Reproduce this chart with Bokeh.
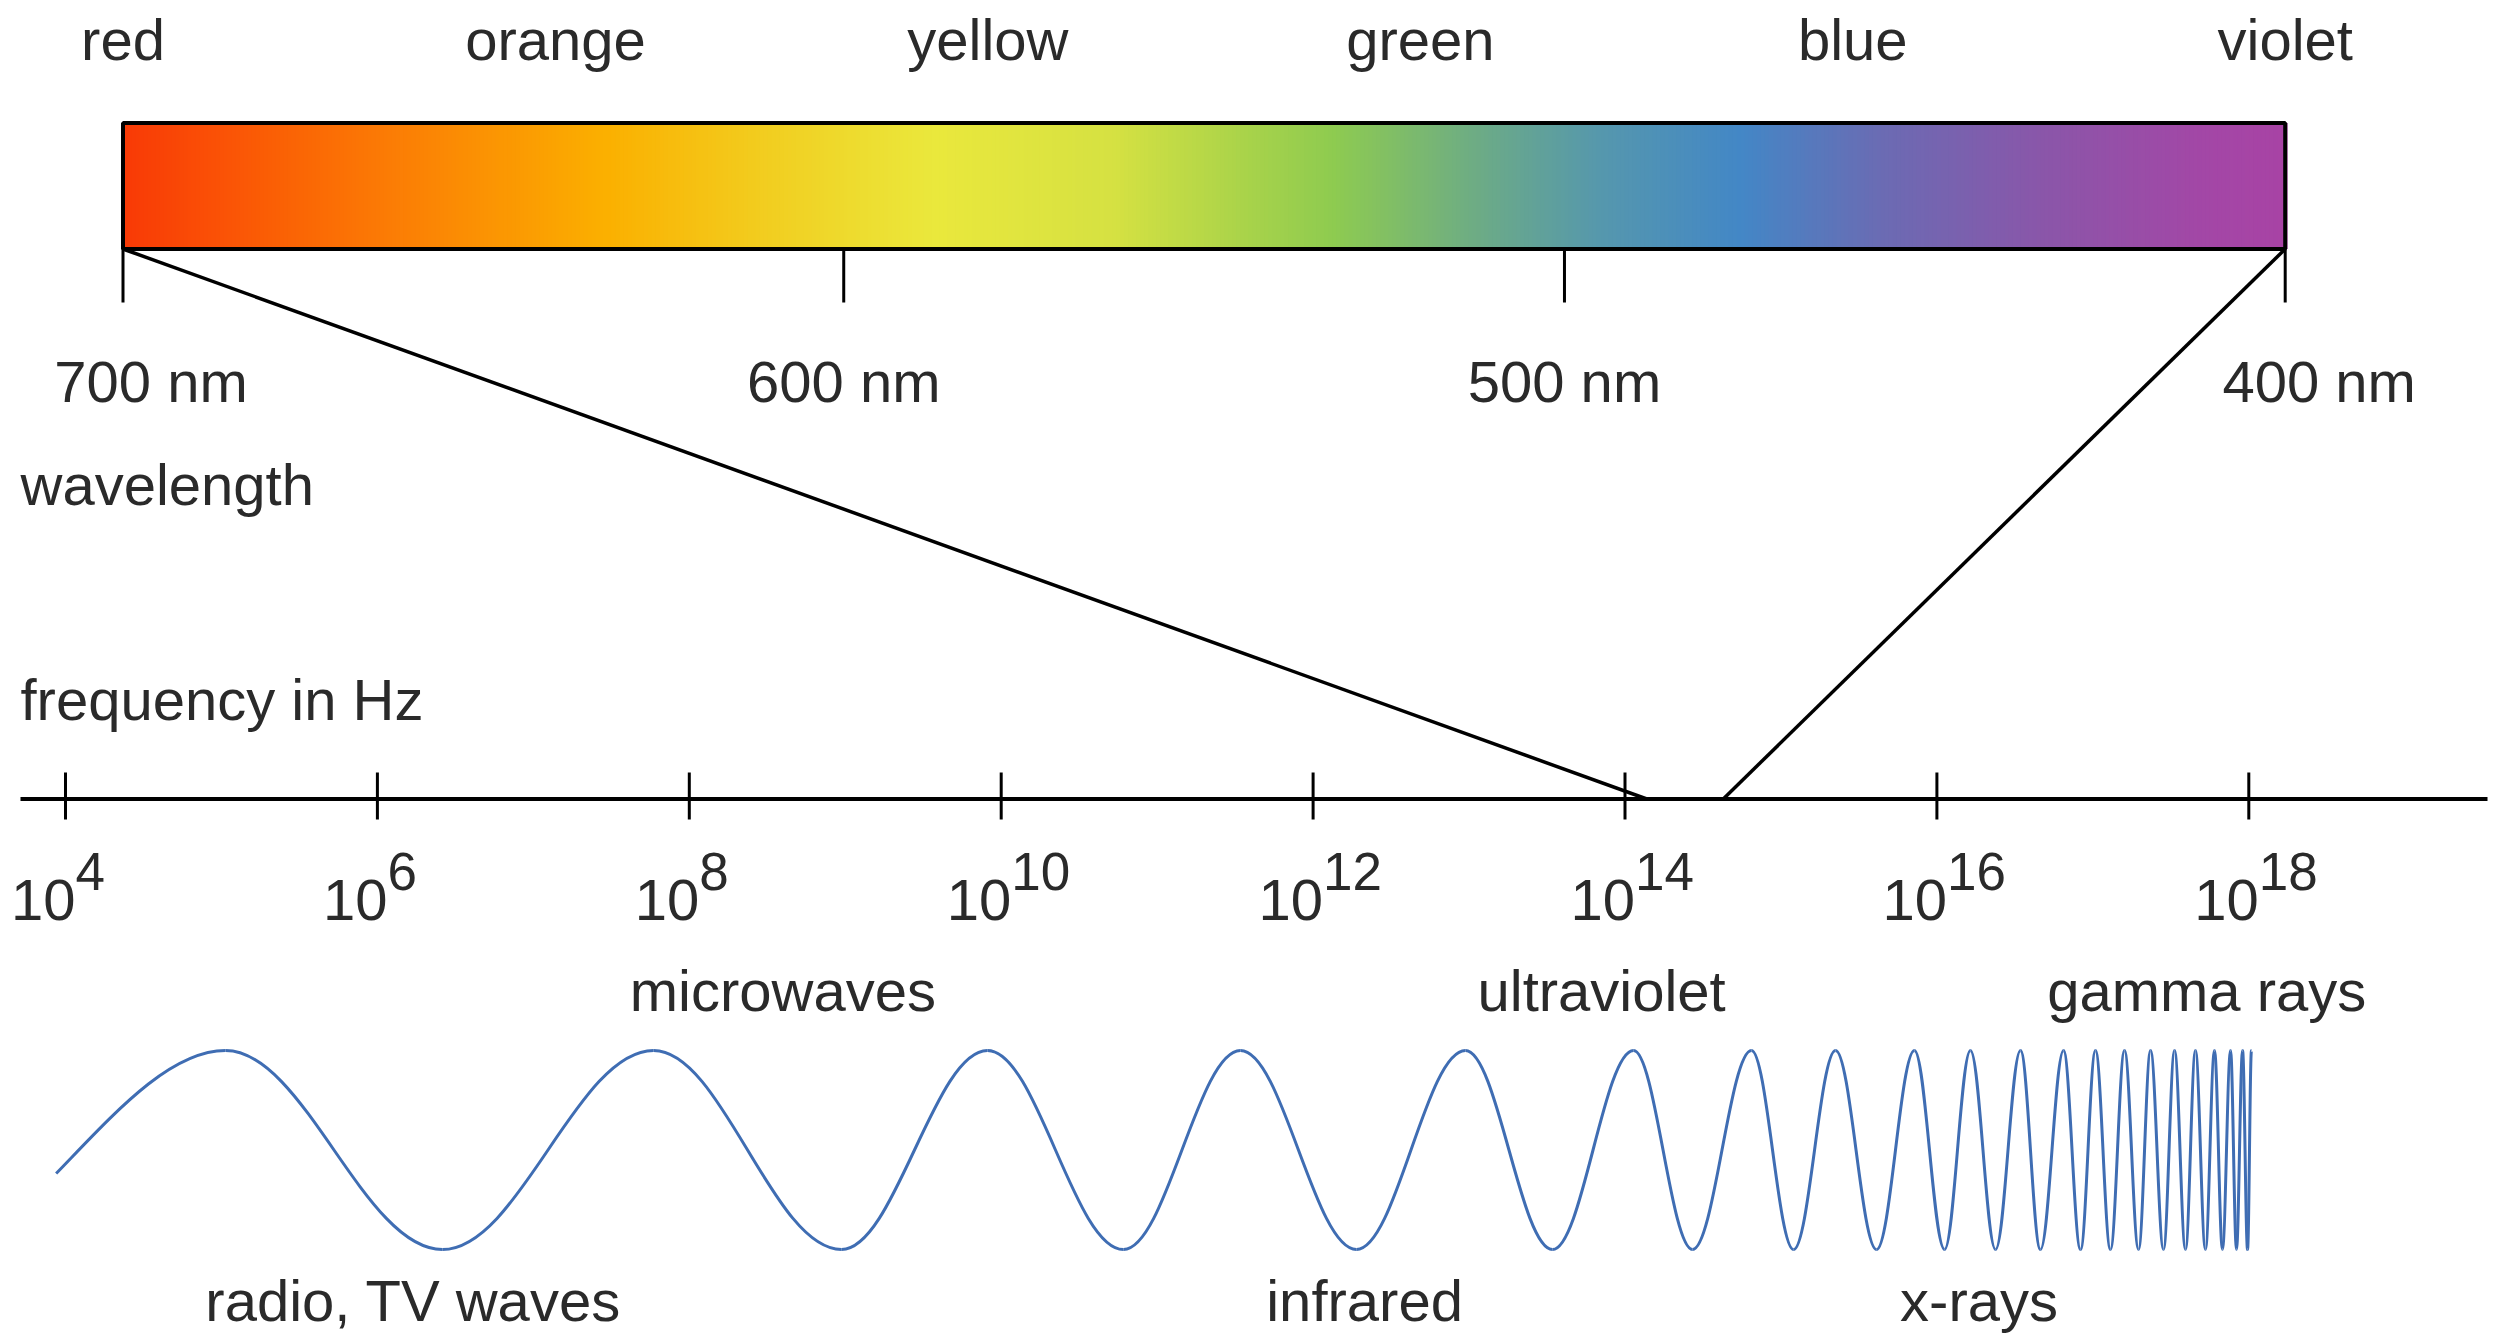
import numpy as np
from bokeh.plotting import figure
from bokeh.models import Range1d, ColumnDataSource
from bokeh.core.properties import value
from bokeh.embed import file_html
from bokeh.resources import INLINE

# ---------------- data ----------------
color_names = ["red", "orange", "yellow", "green", "blue", "violet"]
wavelength_ticks_nm = [700, 600, 500, 400]
wavelength_labels = ["700 nm", "600 nm", "500 nm", "400 nm"]
freq_exponents = [4, 6, 8, 10, 12, 14, 16, 18]
visible_band_logf = [14.14, 14.63]          # where 700 nm / 400 nm meet the frequency axis
bands_above = ["microwaves", "ultraviolet", "gamma rays"]
bands_above_logf = [8.60, 13.85, 17.73]
bands_below = ["radio, TV waves", "infrared", "x-rays"]
bands_below_logf = [6.23, 12.33, 16.27]
wave_start_logf = 3.94
# alternating crests / troughs of the drawn wave (first one is a crest)
wave_extrema_logf = [5.026, 6.417, 7.771, 8.976, 9.912, 10.784, 11.534, 12.278,
                     12.977, 13.535, 14.055, 14.433, 14.811, 15.081, 15.350, 15.613,
                     15.856, 16.049, 16.215, 16.376, 16.536, 16.664, 16.812, 16.921,
                     17.017, 17.113, 17.203, 17.293, 17.370, 17.453, 17.524, 17.594,
                     17.658, 17.722, 17.780, 17.831, 17.883, 17.921, 17.960, 17.992,
                     18.017]

# ---------------- layout / style ----------------
W, H = 2495, 1339
PX_PER_DECADE = 155.95
X_START = 4 - 65 / PX_PER_DECADE
X_END = X_START + W / PX_PER_DECADE
BAR_LEFT_PX, BAR_RIGHT_PX = 122.5, 2284.7
NM_PER_PX = 300.0 / (BAR_RIGHT_PX - BAR_LEFT_PX)
NM_START = 700 + BAR_LEFT_PX * NM_PER_PX
NM_END = NM_START - W * NM_PER_PX

BAR_TOP, BAR_BOT = 122.5, 248.5
WL_TICK_END = 302
WL_LABEL_Y = 381
WL_LABEL_DX = [28, 0, 0, 34]
COLOR_NAME_Y = 39
WAVELENGTH_TITLE_Y = 484
FREQ_TITLE_Y = 699
AXIS_Y = 798.5
AXIS_START = X_START + 20 / PX_PER_DECADE
FTICK_Y0, FTICK_Y1 = 772, 819
EXP_BASE_Y, EXP_SUP_Y = 899, 871
ABOVE_Y, BELOW_Y = 990, 1300
WAVE_TOP, WAVE_BOT = 1050, 1249
WAVE_START_Y = 1173
K = 0.3634

FONT = value("Liberation Sans")
FS = "58px"
TXT = "#2a2a2a"
WAVE_COLOR = "#3f6db3"

stops = [(0.0, "#F93A06"), (0.12, "#FB7A05"), (0.224, "#FBB000"), (0.293, "#F2CC1E"),
         (0.375, "#EAE83C"), (0.459, "#D5E142"), (0.519, "#A9D34A"), (0.56, "#8ECB50"),
         (0.63, "#6BAA88"), (0.685, "#5597AE"), (0.748, "#4387C6"), (0.814, "#6B6BB3"),
         (0.888, "#8A56A9"), (0.962, "#A347A6"), (1.0, "#A843A5")]


def hex2rgb(h):
    h = h.lstrip("#")
    return np.array([int(h[i:i + 2], 16) for i in (0, 2, 4)], dtype=float)


def grad_color(t):
    for (t0, c0), (t1, c1) in zip(stops[:-1], stops[1:]):
        if t0 <= t <= t1:
            f = (t - t0) / (t1 - t0)
            c = hex2rgb(c0) * (1 - f) + hex2rgb(c1) * f
            return "#%02x%02x%02x" % tuple(int(round(v)) for v in c)
    return stops[-1][1]


def nm_to_logf(nm):
    return X_START + (nm - NM_START) / (NM_END - NM_START) * (X_END - X_START)


p = figure(width=W, height=H, output_backend="svg", toolbar_location=None,
           x_range=Range1d(X_START, X_END), y_range=Range1d(H, 0),
           x_axis_location=None, y_axis_location=None, min_border=0,
           background_fill_color="white", border_fill_color="white")
p.extra_x_ranges = {"nm": Range1d(NM_START, NM_END)}
p.grid.visible = False
p.outline_line_color = None

# ---- spectrum bar (gradient) ----
N = 540
edges = np.linspace(700, 400, N + 1)
step = (edges[1] - edges[0])
p.quad(left=edges[:-1], right=edges[1:] + step * 0.6, top=BAR_TOP, bottom=BAR_BOT,
       fill_color=[grad_color((i + 0.5) / N) for i in range(N)], line_color=None,
       x_range_name="nm")
p.quad(left=[wavelength_ticks_nm[0]], right=[wavelength_ticks_nm[-1]], top=BAR_TOP,
       bottom=BAR_BOT, fill_color=None, line_color="black", line_width=4,
       x_range_name="nm")

# color names, evenly spread across the bar
name_x = np.linspace(wavelength_ticks_nm[0], wavelength_ticks_nm[-1], len(color_names))
p.text(x=name_x, y=COLOR_NAME_Y, text=color_names, x_range_name="nm",
       text_font=FONT, text_font_size=FS, text_color=TXT,
       text_align="center", text_baseline="alphabetic")

# wavelength ticks and labels
p.segment(x0=wavelength_ticks_nm, y0=BAR_BOT, x1=wavelength_ticks_nm, y1=WL_TICK_END,
          line_color="black", line_width=3, x_range_name="nm")
p.text(x=wavelength_ticks_nm, y=WL_LABEL_Y, text=wavelength_labels, x_offset=WL_LABEL_DX,
       x_range_name="nm", text_font=FONT, text_font_size=FS, text_color=TXT,
       text_align="center", text_baseline="alphabetic")

# titles
p.text(x=[AXIS_START], y=[WAVELENGTH_TITLE_Y], text=["wavelength"], text_font=FONT,
       text_font_size=FS, text_color=TXT, text_align="left", text_baseline="alphabetic")
p.text(x=[AXIS_START], y=[FREQ_TITLE_Y], text=["frequency in Hz"], text_font=FONT,
       text_font_size=FS, text_color=TXT, text_align="left", text_baseline="alphabetic")

# ---- connector lines from the bar to the frequency axis ----
p.segment(x0=[nm_to_logf(wavelength_ticks_nm[0]), nm_to_logf(wavelength_ticks_nm[-1])],
          y0=BAR_BOT,
          x1=visible_band_logf, y1=AXIS_Y, line_color="black", line_width=3.5)

# ---- frequency axis ----
p.segment(x0=[AXIS_START], y0=[AXIS_Y], x1=[X_START + 2487 / PX_PER_DECADE], y1=[AXIS_Y],
          line_color="black", line_width=4)
p.segment(x0=freq_exponents, y0=FTICK_Y0, x1=freq_exponents, y1=FTICK_Y1,
          line_color="black", line_width=3)
p.text(x=freq_exponents, y=EXP_BASE_Y, text=["10"] * len(freq_exponents), x_offset=10,
       text_font=FONT, text_font_size=FS, text_color=TXT,
       text_align="right", text_baseline="alphabetic")
p.text(x=freq_exponents, y=EXP_SUP_Y, text=[str(e) for e in freq_exponents], x_offset=10,
       text_font=FONT, text_font_size="53px", text_color=TXT,
       text_align="left", text_baseline="alphabetic")

# ---- band names ----
p.text(x=bands_above_logf, y=ABOVE_Y, text=bands_above, text_font=FONT,
       text_font_size=FS, text_color=TXT, text_align="center", text_baseline="alphabetic")
p.text(x=bands_below_logf, y=BELOW_Y, text=bands_below, text_font=FONT,
       text_font_size=FS, text_color=TXT, text_align="center", text_baseline="alphabetic")

# ---- the wave (half-waves between crests and troughs as Bezier curves) ----
ex = np.array(wave_extrema_logf)
ey = np.array([WAVE_TOP if i % 2 == 0 else WAVE_BOT for i in range(len(ex))], dtype=float)
x0s, y0s, x1s, y1s = ex[:-1], ey[:-1], ex[1:], ey[1:]
dx = x1s - x0s
src = ColumnDataSource(dict(x0=x0s, y0=y0s, x1=x1s, y1=y1s,
                            cx0=x0s + K * dx, cy0=y0s, cx1=x1s - K * dx, cy1=y1s))
p.bezier(x0="x0", y0="y0", x1="x1", y1="y1", cx0="cx0", cy0="cy0", cx1="cx1", cy1="cy1",
         source=src, line_color=WAVE_COLOR, line_width=3)

# leading partial half-wave from the start point up to the first crest
h = ex[0] - wave_start_logf
amp = (WAVE_BOT - WAVE_TOP) / 2.0
mid = (WAVE_BOT + WAVE_TOP) / 2.0
phase = np.arccos(np.clip((WAVE_START_Y - mid) / amp, -1, 1))
w_full = h / (1 - phase / np.pi)
slope = -amp * np.pi / w_full * np.sin(phase)
p.bezier(x0=[wave_start_logf], y0=[WAVE_START_Y], x1=[ex[0]], y1=[WAVE_TOP],
         cx0=[wave_start_logf + h / 3], cy0=[WAVE_START_Y + slope * h / 3],
         cx1=[ex[0] - h / 3], cy1=[WAVE_TOP], line_color=WAVE_COLOR, line_width=3)

open("out.html", "w").write(file_html(p, INLINE))
